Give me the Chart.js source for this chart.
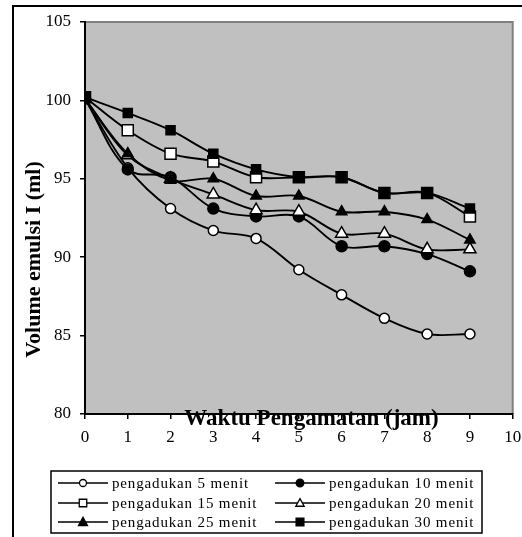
<!DOCTYPE html>
<html><head><meta charset="utf-8">
<script src="https://cdn.jsdelivr.net/npm/chart.js@4.4.1/dist/chart.umd.min.js"></script>
<style>html,body{margin:0;padding:0;background:#fff;overflow:hidden}#wrap{position:relative;width:522px;height:537px}canvas{display:block}</style>
</head><body><div id="wrap"><canvas id="c" width="522" height="537"></canvas></div>
<script>
// ---- data ----
const hours = [0, 1, 2, 3, 4, 5, 6, 7, 8, 9];
const seriesLabels = ['pengadukan 5 menit', 'pengadukan 10 menit', 'pengadukan 15 menit',
  'pengadukan 20 menit', 'pengadukan 25 menit', 'pengadukan 30 menit'];
const aduk5  = [100.1, 95.7, 93.1, 91.7, 91.2, 89.2, 87.6, 86.1, 85.1, 85.1];
const aduk10 = [100.1, 95.6, 95.1, 93.1, 92.6, 92.6, 90.7, 90.7, 90.2, 89.1];
const aduk15 = [100.2, 98.1, 96.6, 96.1, 95.1, 95.1, 95.1, 94.1, 94.1, 92.6];
const aduk20 = [100.1, 96.5, 95.0, 94.0, 93.0, 92.9, 91.5, 91.5, 90.5, 90.5];
const aduk25 = [100.1, 96.6, 94.9, 95.0, 93.9, 93.9, 92.9, 92.9, 92.4, 91.1];
const aduk30 = [100.2, 99.2, 98.1, 96.6, 95.6, 95.1, 95.1, 94.1, 94.1, 93.1];
const yTicks = [80, 85, 90, 95, 100, 105];
const xTicks = [0, 1, 2, 3, 4, 5, 6, 7, 8, 9, 10];
const xTitle = 'Waktu Pengamatan (jam)';
const yTitle = 'Volume emulsi I (ml)';

// ---- styles ----
const allSeries = [aduk5, aduk10, aduk15, aduk20, aduk25, aduk30];
const markerStyles = [
  {style: 'circle',   r: 5,   fill: '#fff', lr: 3.5},
  {style: 'circle',   r: 5.5, fill: '#000', lr: 3.8},
  {style: 'rect',     r: 7.8, fill: '#fff', lr: 5},
  {style: 'triangle', r: 7,   fill: '#fff', lr: 4.8},
  {style: 'triangle', r: 6,   fill: '#000', lr: 5.2},
  {style: 'rect',     r: 6.4, fill: '#000', lr: 5.2}
];
const FONT = '"Liberation Serif", "Times New Roman", serif';

const datasets = allSeries.map((vals, i) => ({
  label: seriesLabels[i],
  data: hours.map((h, k) => ({x: h, y: vals[k]})),
  borderColor: '#000',
  borderWidth: 1.9,
  tension: 0.35,
  fill: false,
  pointStyle: markerStyles[i].style,
  pointRadius: markerStyles[i].r,
  pointBackgroundColor: markerStyles[i].fill,
  pointBorderColor: '#000',
  pointBorderWidth: 1.5,
  order: 5 - i
}));

function drawMarker(ctx, st, x, y, r, fill) {
  ctx.beginPath();
  if (st === 'circle') {
    ctx.arc(x, y, r, 0, Math.PI * 2);
  } else if (st === 'rect') {
    ctx.rect(x - r, y - r, 2 * r, 2 * r);
  } else {
    const h = r * 1.5;
    ctx.moveTo(x, y - h * 0.6);
    ctx.lineTo(x + r * 0.87, y + h * 0.45);
    ctx.lineTo(x - r * 0.87, y + h * 0.45);
    ctx.closePath();
  }
  ctx.fillStyle = fill;
  ctx.fill();
  ctx.lineWidth = 1.3;
  ctx.strokeStyle = '#000';
  ctx.stroke();
}

const decor = {
  id: 'decor',
  beforeDraw(chart) {
    const {ctx, chartArea: a} = chart;
    ctx.save();
    ctx.fillStyle = '#fff';
    ctx.fillRect(0, 0, chart.width, chart.height);
    ctx.fillStyle = '#c0c0c0';
    ctx.fillRect(a.left, a.top, a.right - a.left, a.bottom - a.top);
    ctx.strokeStyle = '#808080';
    ctx.lineWidth = 2;
    ctx.beginPath();
    ctx.moveTo(a.left, a.top);
    ctx.lineTo(a.right, a.top);
    ctx.lineTo(a.right, a.bottom);
    ctx.stroke();
    ctx.restore();
  },
  afterDraw(chart) {
    const {ctx} = chart;
    ctx.save();
    // outer frame
    ctx.strokeStyle = '#000';
    ctx.lineWidth = 2;
    ctx.beginPath();
    ctx.moveTo(13, chart.height + 2);
    ctx.lineTo(13, 6);
    ctx.lineTo(chart.width + 2, 6);
    ctx.stroke();

    // axis titles
    ctx.fillStyle = '#000';
    ctx.font = 'bold 23px ' + FONT;
    ctx.textAlign = 'center';
    ctx.textBaseline = 'alphabetic';
    ctx.fillText(xTitle, 311.5, 425);

    ctx.save();
    ctx.translate(40, 259.5);
    ctx.rotate(-Math.PI / 2);
    ctx.font = 'bold 22px ' + FONT;
    ctx.textBaseline = 'alphabetic';
    ctx.fillText(yTitle, 0, 0);
    ctx.restore();

    // legend
    ctx.lineWidth = 1.5;
    ctx.strokeStyle = '#000';
    ctx.strokeRect(51, 471, 431, 62);
    const rows = [483, 503, 522];
    const cols = [58, 275];
    ctx.font = '15px ' + FONT;
    ctx.textAlign = 'left';
    ctx.textBaseline = 'middle';
    if ('letterSpacing' in ctx) ctx.letterSpacing = '0.85px';
    chart.data.datasets.forEach((ds, i) => {
      const cx = cols[i % 2], cy = rows[Math.floor(i / 2)];
      ctx.beginPath();
      ctx.lineWidth = 1.6;
      ctx.strokeStyle = '#000';
      ctx.moveTo(cx, cy);
      ctx.lineTo(cx + 50, cy);
      ctx.stroke();
      const m = markerStyles[i];
      drawMarker(ctx, m.style, cx + 25, cy, m.style === 'rect' ? m.lr * 0.75 : m.lr, m.fill);
      ctx.fillStyle = '#000';
      ctx.fillText(ds.label, cx + 54, cy + 1);
    });
    ctx.restore();
  }
};

new Chart(document.getElementById('c'), {
  type: 'line',
  data: {datasets},
  options: {
    responsive: false,
    devicePixelRatio: 1,
    animation: false,
    layout: {padding: {top: 22, right: 6, bottom: 0, left: 0}},
    plugins: {legend: {display: false}, tooltip: {enabled: false}, title: {display: false}},
    scales: {
      x: {
        type: 'linear', min: 0, max: 10,
        afterBuildTicks(s) { s.ticks = xTicks.map(v => ({value: v})); },
        ticks: {color: '#000', font: {family: FONT, size: 17}, padding: 8, maxRotation: 0, autoSkip: false},
        grid: {drawOnChartArea: false, drawTicks: true, tickLength: 5, color: '#000', lineWidth: 1.5},
        border: {display: true, color: '#000', width: 2},
        afterFit(s) { s.height = 123; s.paddingLeft = 0; s.paddingRight = 0; }
      },
      y: {
        type: 'linear', min: 80, max: 105,
        afterBuildTicks(s) { s.ticks = yTicks.map(v => ({value: v})); },
        ticks: {color: '#000', font: {family: FONT, size: 17}, padding: 9},
        grid: {drawOnChartArea: false, drawTicks: true, tickLength: 5, color: '#000', lineWidth: 1.5},
        border: {display: true, color: '#000', width: 2},
        afterFit(s) { s.width = 85; s.paddingTop = 0; s.paddingBottom = 0; }
      }
    }
  },
  plugins: [decor]
});
</script>
</body></html>
